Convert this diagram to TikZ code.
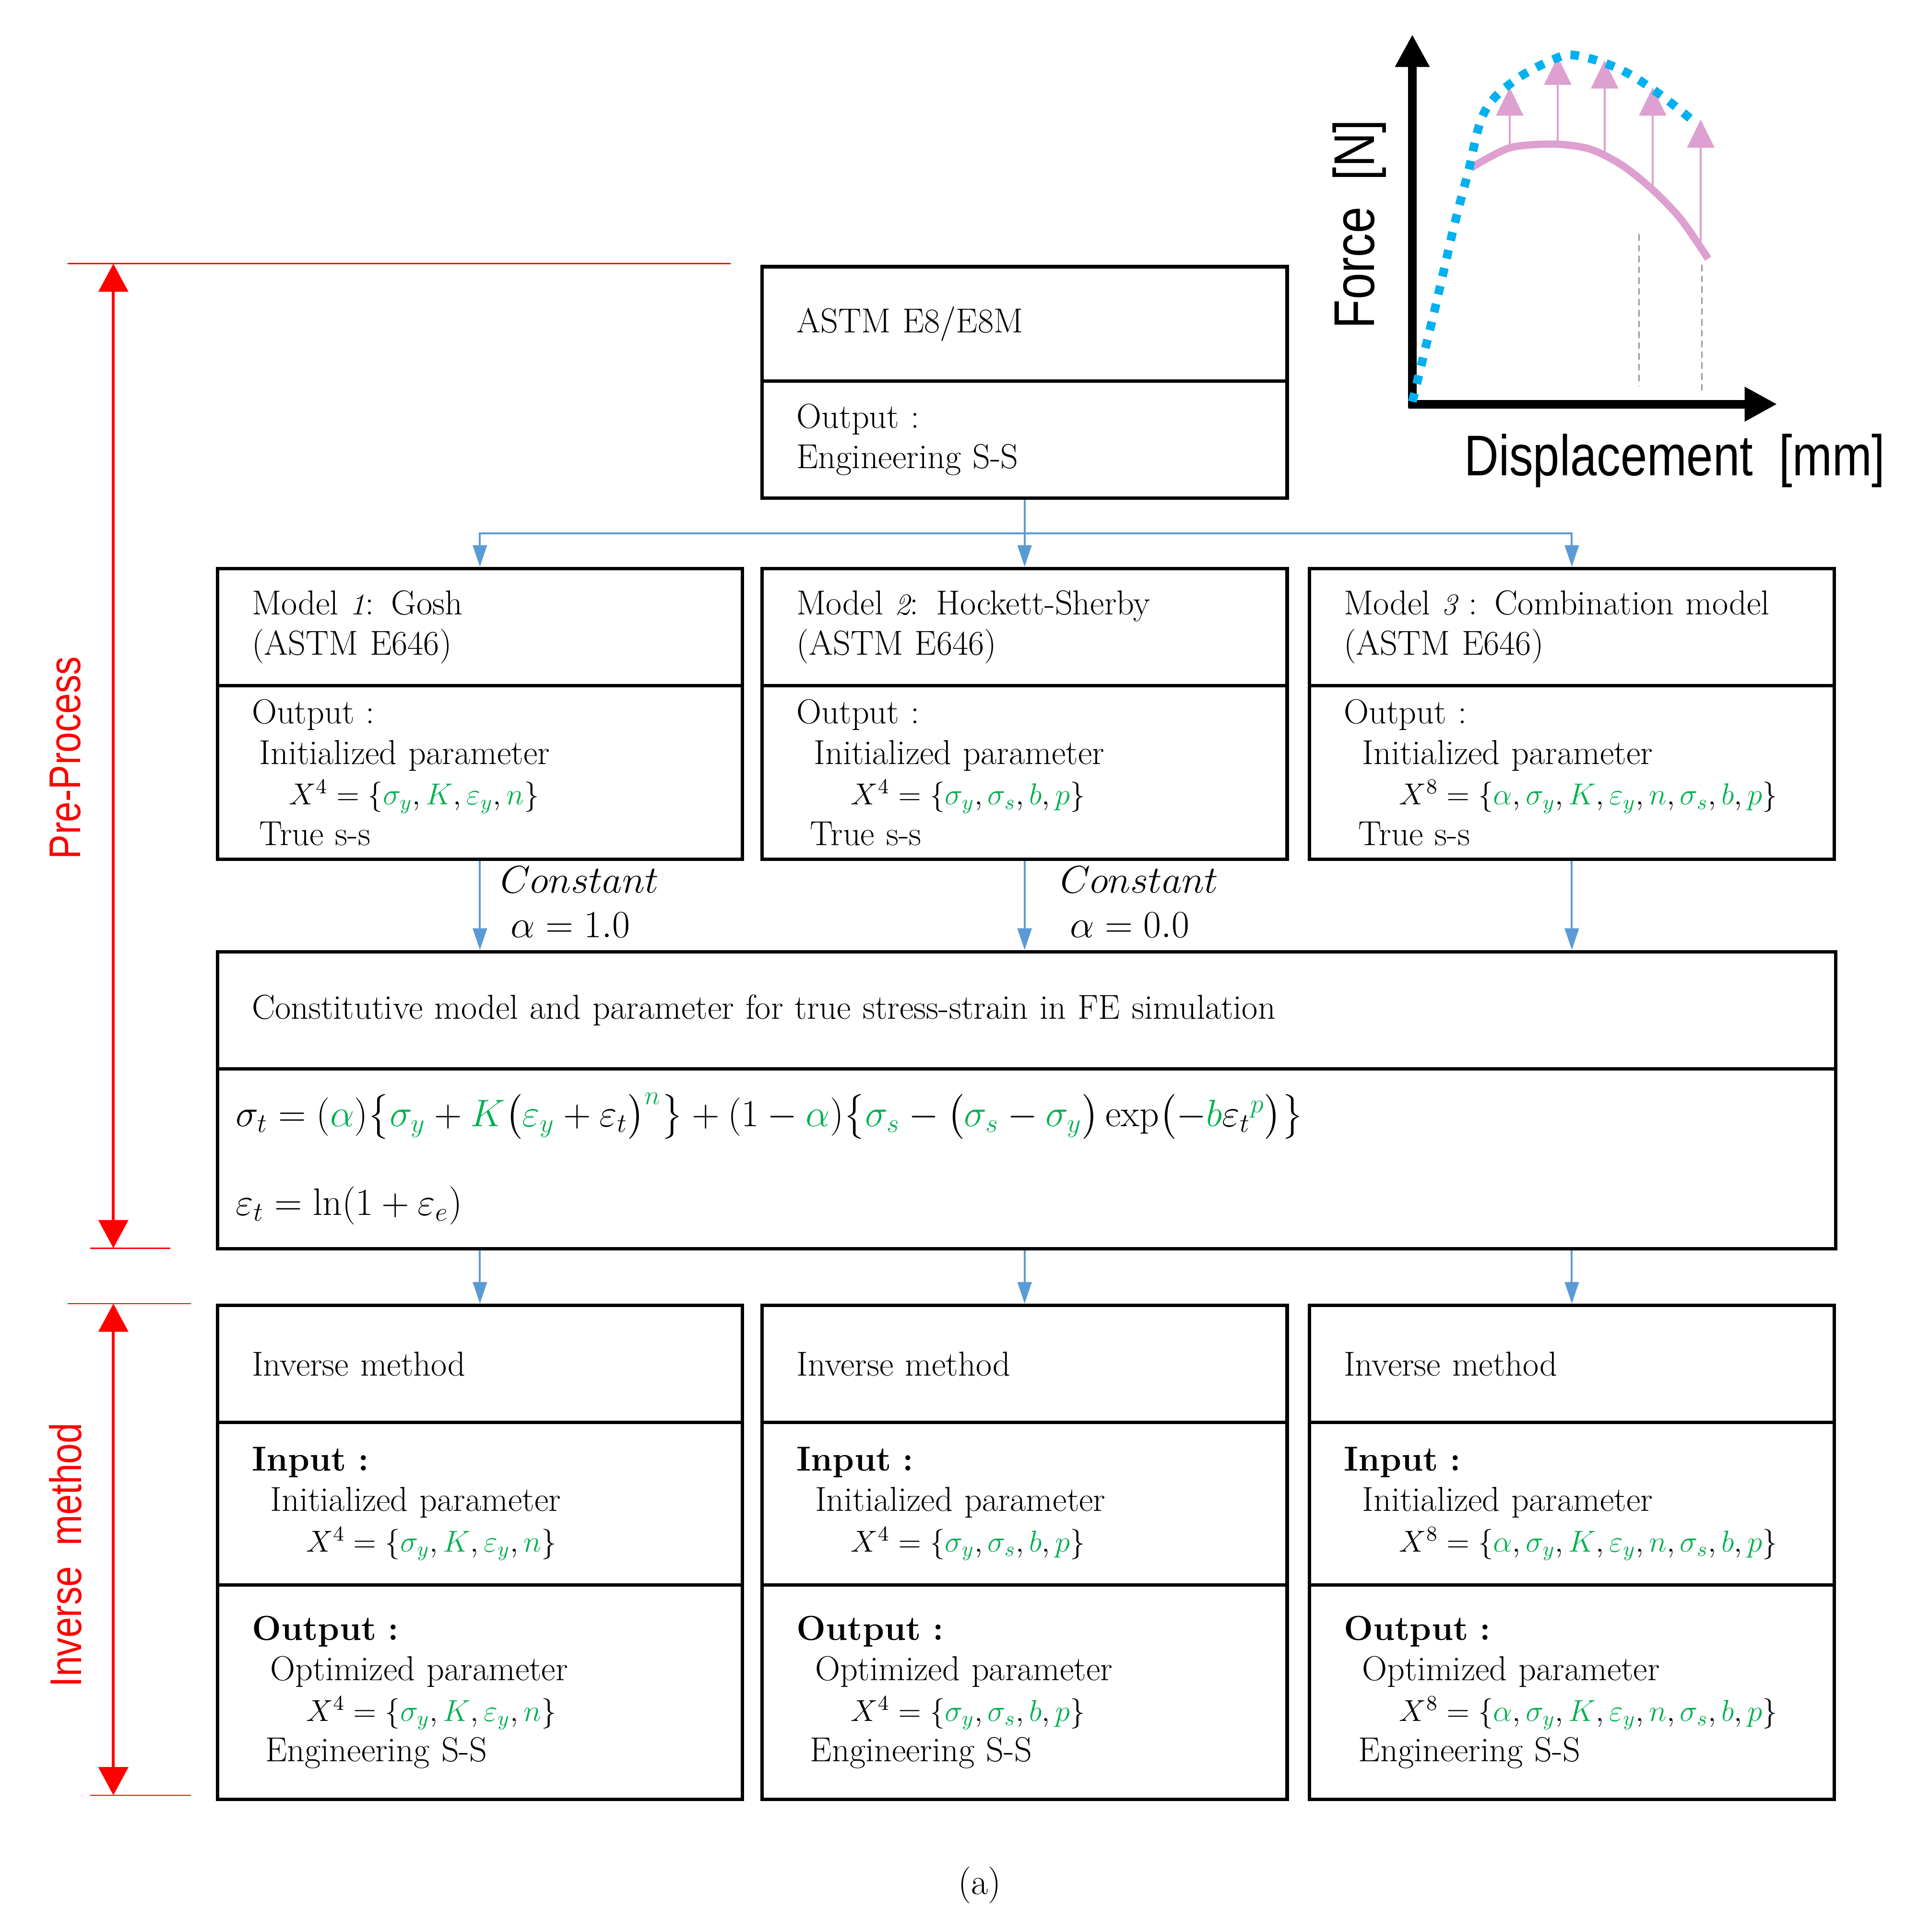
\documentclass[tikz,border=0pt]{standalone}
\usepackage{fix-cm}
\usepackage{fontspec}
\usepackage{amsmath}
\usepackage{xcolor}
\usepackage{tikz}
\usetikzlibrary{arrows.meta,calc,positioning}
\newfontfamily\graphsans{Liberation Sans}[FakeStretch=0.83]
\definecolor{paramgreen}{HTML}{00B050}
\definecolor{flowblue}{HTML}{5B9BD5}
\definecolor{curveblue}{HTML}{00B0F0}
\definecolor{curvepink}{HTML}{DDA0D0}
\definecolor{markred}{HTML}{FF0000}
\newlength{\pxu}
\setlength{\pxu}{0.02cm}
\newcommand{\gp}[1]{{\color{paramgreen}#1}}
\newcommand{\pset}[1]{{\fontsize{14}{18.7}\selectfont$#1$}}
\newcommand{\bodyfont}{\fontsize{16}{18.7}\selectfont}
\tikzset{
  cellbox/.style={
    draw=black,
    line width=1.6pt,
    anchor=north west,
    align=left,
    inner xsep=28\pxu,
    inner ysep=0pt,
    text width=370\pxu,
    font=\bodyfont
  },
  widecell/.style={text width=1257\pxu},
  flowedge/.style={draw=flowblue, line width=0.85pt},
  flowarrow/.style={flowedge, -{Triangle[length=10pt,width=6.5pt]}},
  constlabel/.style={anchor=west, align=left, inner sep=0pt, font=\fontsize{17.8}{20.5}\selectfont},
  spanline/.style={draw=markred, line width=0.6pt},
  spanarrow/.style={draw=markred, line width=1.4pt, {Triangle[length=13pt,width=13.6pt]}-{Triangle[length=13pt,width=13.6pt]}},
  spanlabel/.style={text=markred, rotate=90, font=\graphsans\fontsize{20.5}{24}\selectfont},
  axisline/.style={draw=black, line width=4pt, -{Triangle[length=15pt,width=15pt]}},
  graphlabel/.style={font=\graphsans\fontsize{26.5}{30}\selectfont},
  liftarrow/.style={draw=curvepink, line width=0.9pt, -{Triangle[length=13pt,width=12.5pt]}},
  guide/.style={draw=black!40, line width=0.6pt, dash pattern=on 3pt off 2pt}
}

\begin{document}
\begin{tikzpicture}[x=0.02cm,y=-0.02cm]
\path[use as bounding box] (0,0) rectangle (1556,1568);

% ASTM test
\node[cellbox, minimum height=93\pxu] (astm) at (617,215) {ASTM E8/E8M};
\node[cellbox, minimum height=95\pxu] (astmout) at (617,308) {Output :\\Engineering S-S};

% three models
\node[cellbox, minimum height=95\pxu] (gosh) at (175,460) {Model \pset{\mathit{1}}: Gosh\\(ASTM E646)};
\node[cellbox, minimum height=141\pxu] (goshout) at (175,555) {Output :\\\hspace*{6\pxu}Initialized parameter\\\hspace*{30\pxu}\pset{X^4=\{\gp{\sigma_y},\gp{K},\gp{\varepsilon_y},\gp{n}\}}\\\hspace*{6\pxu}True s-s};

\node[cellbox, minimum height=95\pxu] (hockett) at (617,460) {Model \pset{\mathit{2}}: Hockett-Sherby\\(ASTM E646)};
\node[cellbox, minimum height=141\pxu] (hockettout) at (617,555) {Output :\\\hspace*{14\pxu}Initialized parameter\\\hspace*{44\pxu}\pset{X^4=\{\gp{\sigma_y},\gp{\sigma_s},\gp{b},\gp{p}\}}\\\hspace*{11\pxu}True s-s};

\node[cellbox, minimum height=95\pxu] (combo) at (1061,460) {Model \pset{\mathit{3}} : Combination model\\(ASTM E646)};
\node[cellbox, minimum height=141\pxu] (comboout) at (1061,555) {Output :\\\hspace*{15\pxu}Initialized parameter\\\hspace*{45\pxu}\pset{X^8=\{\gp{\alpha},\gp{\sigma_y},\gp{K},\gp{\varepsilon_y},\gp{n},\gp{\sigma_s},\gp{b},\gp{p}\}}\\\hspace*{12\pxu}True s-s};

% constitutive model
\node[cellbox, widecell, minimum height=95\pxu] (fehead) at (175,771) {Constitutive model and parameter for true stress-strain in FE simulation};
\node[cellbox, widecell, inner xsep=15\pxu, text width=1283\pxu, minimum height=146\pxu, font=\fontsize{17.7}{41}\selectfont] (feeq) at (175,866)
  {$\sigma_t = (\gp{\alpha})\bigl\{\gp{\sigma_y} + \gp{K}\bigl(\gp{\varepsilon_y} + \varepsilon_t\bigr)^{\gp{n}}\bigr\} + (1-\gp{\alpha})\bigl\{\gp{\sigma_s} - \bigl(\gp{\sigma_s} - \gp{\sigma_y}\bigr)\exp\bigl(-\gp{b}\varepsilon_t{}^{\gp{p}}\bigr)\bigr\}$\\
   $\varepsilon_t = \ln(1+\varepsilon_e)$};

\node[constlabel] (alphaone) at (406,732) {$Constant$\\\hspace*{8\pxu}$\alpha = 1.0$};
\node[constlabel] (alphazero) at (860,732) {$Constant$\\\hspace*{8\pxu}$\alpha = 0.0$};

% inverse method
\node[cellbox, minimum height=95\pxu] (invone) at (175,1058) {Inverse method};
\node[cellbox, minimum height=132\pxu] (invonein) at (175,1153) {\textbf{Input :}\\\hspace*{15\pxu}Initialized parameter\\\hspace*{44\pxu}\pset{X^4=\{\gp{\sigma_y},\gp{K},\gp{\varepsilon_y},\gp{n}\}}};
\node[cellbox, minimum height=174\pxu] (invoneout) at (175,1285) {\textbf{Output :}\\\hspace*{15\pxu}Optimized parameter\\\hspace*{44\pxu}\pset{X^4=\{\gp{\sigma_y},\gp{K},\gp{\varepsilon_y},\gp{n}\}}\\\hspace*{11\pxu}Engineering S-S};

\node[cellbox, minimum height=95\pxu] (invtwo) at (617,1058) {Inverse method};
\node[cellbox, minimum height=132\pxu] (invtwoin) at (617,1153) {\textbf{Input :}\\\hspace*{15\pxu}Initialized parameter\\\hspace*{44\pxu}\pset{X^4=\{\gp{\sigma_y},\gp{\sigma_s},\gp{b},\gp{p}\}}};
\node[cellbox, minimum height=174\pxu] (invtwoout) at (617,1285) {\textbf{Output :}\\\hspace*{15\pxu}Optimized parameter\\\hspace*{44\pxu}\pset{X^4=\{\gp{\sigma_y},\gp{\sigma_s},\gp{b},\gp{p}\}}\\\hspace*{11\pxu}Engineering S-S};

\node[cellbox, minimum height=95\pxu] (invthree) at (1061,1058) {Inverse method};
\node[cellbox, minimum height=132\pxu] (invthreein) at (1061,1153) {\textbf{Input :}\\\hspace*{15\pxu}Initialized parameter\\\hspace*{45\pxu}\pset{X^8=\{\gp{\alpha},\gp{\sigma_y},\gp{K},\gp{\varepsilon_y},\gp{n},\gp{\sigma_s},\gp{b},\gp{p}\}}};
\node[cellbox, minimum height=174\pxu] (invthreeout) at (1061,1285) {\textbf{Output :}\\\hspace*{15\pxu}Optimized parameter\\\hspace*{45\pxu}\pset{X^8=\{\gp{\alpha},\gp{\sigma_y},\gp{K},\gp{\varepsilon_y},\gp{n},\gp{\sigma_s},\gp{b},\gp{p}\}}\\\hspace*{12\pxu}Engineering S-S};

% blue flow
\coordinate (forkrow) at (0,433);
\coordinate (fork) at (astmout.south |- forkrow);
\draw[flowedge] (astmout.south) -- (fork);
\draw[flowarrow] (fork) -| (gosh.north);
\draw[flowarrow] (fork) -- (hockett.north);
\draw[flowarrow] (fork) -| (combo.north);
\draw[flowarrow] (goshout.south) -- (goshout.south |- fehead.north);
\draw[flowarrow] (hockettout.south) -- (hockettout.south |- fehead.north);
\draw[flowarrow] (comboout.south) -- (comboout.south |- fehead.north);
\draw[flowarrow] (feeq.south -| invone.north) -- (invone.north);
\draw[flowarrow] (feeq.south -| invtwo.north) -- (invtwo.north);
\draw[flowarrow] (feeq.south -| invthree.north) -- (invthree.north);

% red spans
\coordinate (pretop) at (92,214);
\coordinate (prebot) at (92,1013);
\coordinate (invtop) at (92,1058);
\coordinate (invbot) at (92,1457);
\draw[spanline] (55,214) -- (593,214);
\draw[spanline] (73,1013) -- (138,1013);
\draw[spanline] (55,1058) -- (155,1058);
\draw[spanline] (73,1457) -- (155,1457);
\draw[spanarrow] (pretop) -- (prebot);
\draw[spanarrow] (invtop) -- (invbot);
\node[spanlabel] (prelabel) at (53,615) {Pre-Process};
\node[spanlabel] (invlabel) at (53,1262) {Inverse\ \ method};

% force-displacement sketch
\draw[axisline] (1146,331) -- (1146,28);
\draw[axisline] (1143,328) -- (1442,328);
\draw[guide] (1330,190) -- (1330,313);
\draw[guide] (1381,215) -- (1381,320);
\draw[curvepink, line width=3.4pt] plot[smooth] coordinates {(1194,136) (1225,120) (1261,117) (1290,121) (1316,134) (1341,154) (1364,178) (1386,210)};
\draw[liftarrow] (1225,120) -- (1225,71);
\draw[liftarrow] (1264,117) -- (1264,46);
\draw[liftarrow] (1302,125) -- (1302,49);
\draw[liftarrow] (1341,154) -- (1341,71);
\draw[liftarrow] (1380,203) -- (1380,97);
\draw[curveblue, line width=4pt, dash pattern=on 4pt off 4.5pt] plot[smooth, tension=0.6] coordinates {(1146,326) (1164,252) (1180,183) (1191,141) (1204,92) (1228,66) (1261,48) (1279,45) (1314,56) (1346,76) (1376,100)};
\node[graphlabel, rotate=90] (forcelabel) at (1103,182) {Force\ \ [N]};
\node[graphlabel] (displabel) at (1359,374) {Displacement\ \ [mm]};

\node[font=\fontsize{17}{20}\selectfont] (caption) at (795,1530) {(a)};

\end{tikzpicture}
\end{document}
